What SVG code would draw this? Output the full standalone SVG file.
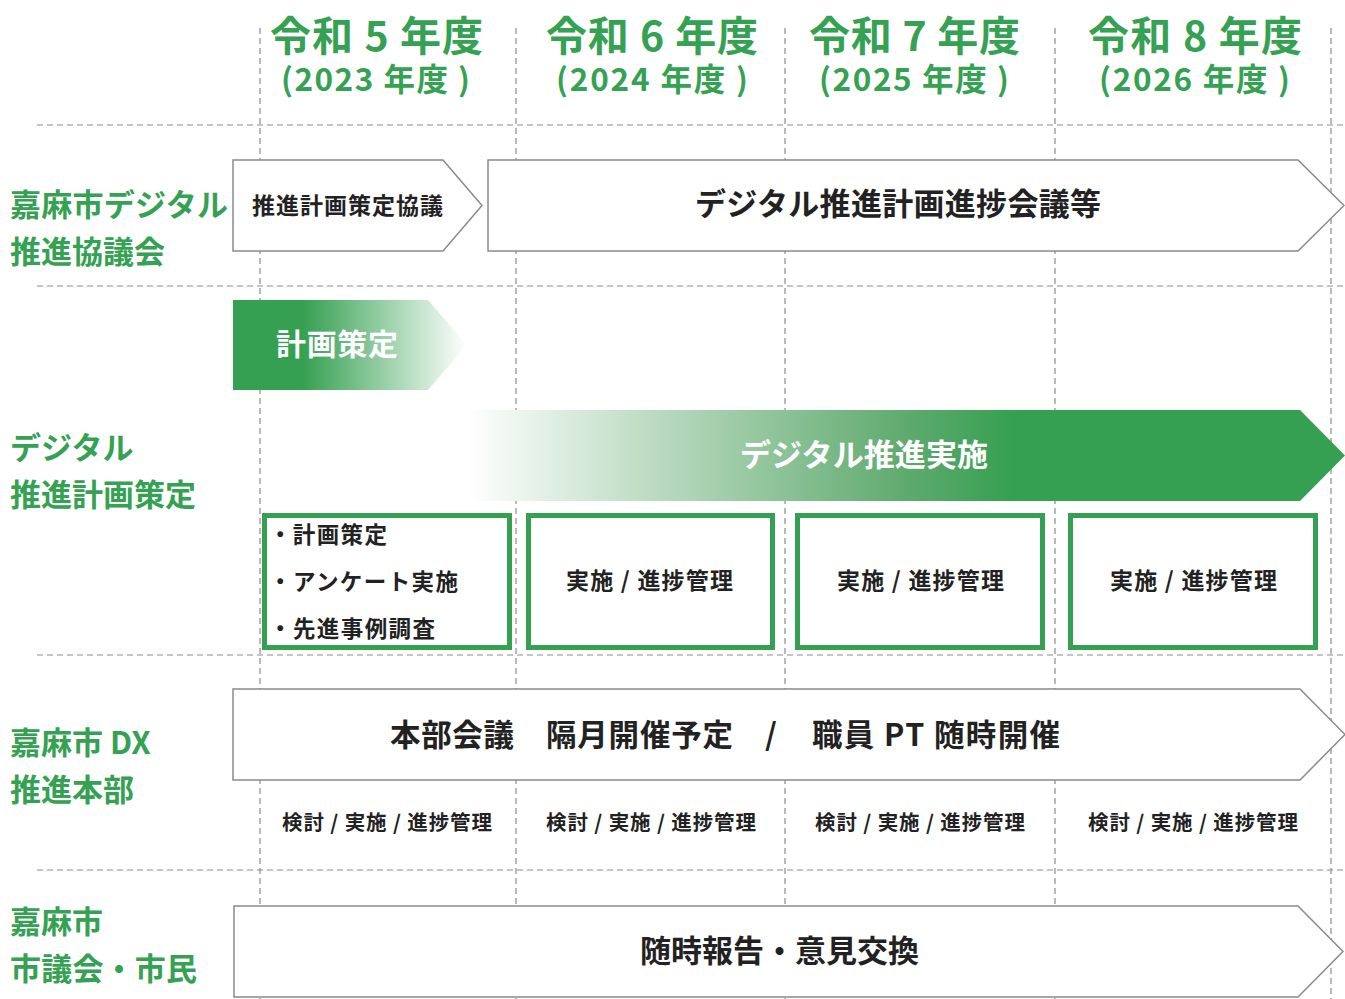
<svg xmlns="http://www.w3.org/2000/svg" width="1345" height="999" viewBox="0 0 1345 999">
<defs>
<linearGradient id="g1" x1="0" y1="0" x2="1" y2="0">
<stop offset="0" stop-color="#36a052"/>
<stop offset="0.3" stop-color="#36a052"/>
<stop offset="1" stop-color="#ffffff"/>
</linearGradient>
<linearGradient id="g2" x1="0" y1="0" x2="1" y2="0">
<stop offset="0" stop-color="#ffffff"/>
<stop offset="0.5" stop-color="#5faa6e"/>
<stop offset="0.62" stop-color="#36a052"/>
<stop offset="1" stop-color="#36a052"/>
</linearGradient>
</defs>
<style>
.t{font-family:"Noto Sans CJK JP","Noto Sans",sans-serif;font-weight:700}
.g{fill:#35a153}
.k{fill:#222}
.w{fill:#fff}
.grid{stroke:#8c8c8c;stroke-width:1.2;stroke-dasharray:6 4;fill:none}
.ar{fill:#fff;stroke:#8a8a8a;stroke-width:1.5}
.bx{fill:#fff;stroke:#36a052;stroke-width:5}
</style>
<rect width="1345" height="999" fill="#fff"/>
<g id="grid">
<line class="grid" x1="260" y1="28" x2="260" y2="999"/>
<line class="grid" x1="516" y1="28" x2="516" y2="999"/>
<line class="grid" x1="785" y1="28" x2="785" y2="999"/>
<line class="grid" x1="1055" y1="28" x2="1055" y2="999"/>
<line class="grid" x1="1331" y1="28" x2="1331" y2="999"/>
<line class="grid" x1="37" y1="125" x2="1345" y2="125"/>
<line class="grid" x1="37" y1="286" x2="1345" y2="286"/>
<line class="grid" x1="37" y1="655" x2="1345" y2="655"/>
<line class="grid" x1="37" y1="870" x2="1345" y2="870"/>
</g>
<g id="headers" class="t g">
<text x="270" y="51" font-size="41" textLength="213">令和 5 年度</text>
<text x="281" y="91" font-size="31.5" textLength="189">(2023 年度 )</text>
<text x="546" y="51" font-size="41" textLength="212">令和 6 年度</text>
<text x="556" y="91" font-size="31.5" textLength="192">(2024 年度 )</text>
<text x="809" y="51" font-size="41" textLength="211">令和 7 年度</text>
<text x="819" y="91" font-size="31.5" textLength="190">(2025 年度 )</text>
<text x="1088" y="51" font-size="41" textLength="214">令和 8 年度</text>
<text x="1099" y="91" font-size="31.5" textLength="191">(2026 年度 )</text>
</g>
<g id="labels" class="t g" font-size="31">
<text x="10" y="216" textLength="218">嘉麻市デジタル</text>
<text x="10" y="263">推進協議会</text>
<text x="10" y="459">デジタル</text>
<text x="10" y="506">推進計画策定</text>
<text x="10" y="754">嘉麻市 DX</text>
<text x="10" y="801">推進本部</text>
<text x="10" y="933">嘉麻市</text>
<text x="10" y="980" textLength="187">市議会・市民</text>
</g>
<g id="arrow-kyogi">
<polygon class="ar" points="233,160 443,160 482,205.5 443,251 233,251"/>
<text class="t k" x="252" y="214" font-size="23" textLength="191">推進計画策定協議</text>
</g>
<g id="arrow-shinchoku">
<polygon class="ar" points="488,160 1298,160 1344,205.5 1298,251 488,251"/>
<text class="t k" x="695" y="215" font-size="31" textLength="406">デジタル推進計画進捗会議等</text>
</g>
<g id="arrow-keikaku">
<polygon points="233,300 428,300 467,345 428,390 233,390" fill="url(#g1)"/>
<text class="t w" x="276" y="355" font-size="30" textLength="122">計画策定</text>
</g>
<g id="arrow-jisshi">
<polygon points="467,410 1300,410 1345,455.5 1300,501 467,501" fill="url(#g2)"/>
<text class="t w" x="740" y="466" font-size="31" textLength="248">デジタル推進実施</text>
</g>
<g id="box1">
<rect class="bx" x="264.5" y="515.5" width="245" height="132"/>
<g class="t k" font-size="22.5">
<text x="269" y="543" textLength="118">・計画策定</text>
<text x="269" y="590" textLength="189">・アンケート実施</text>
<text x="269" y="637" textLength="166">・先進事例調査</text>
</g>
</g>
<g id="box2">
<rect class="bx" x="528.5" y="515.5" width="244" height="132"/>
<text class="t k" x="566" y="589" font-size="23" textLength="167">実施 / 進捗管理</text>
</g>
<g id="box3">
<rect class="bx" x="797.5" y="515.5" width="245" height="132"/>
<text class="t k" x="837" y="589" font-size="23" textLength="167">実施 / 進捗管理</text>
</g>
<g id="box4">
<rect class="bx" x="1070.5" y="515.5" width="245" height="132"/>
<text class="t k" x="1110" y="589" font-size="23" textLength="167">実施 / 進捗管理</text>
</g>
<g id="arrow-honbu">
<polygon class="ar" points="233,689 1300,689 1345,734.5 1300,780 233,780"/>
<text class="t k" y="746" font-size="30.5"><tspan x="390" textLength="124">本部会議</tspan><tspan x="546" textLength="187">隔月開催予定</tspan><tspan x="765">/</tspan><tspan x="812" textLength="248">職員 PT 随時開催</tspan></text>
</g>
<g id="tasks" class="t k" font-size="20.5">
<text x="282" y="830" textLength="210">検討 / 実施 / 進捗管理</text>
<text x="546" y="830" textLength="210">検討 / 実施 / 進捗管理</text>
<text x="815" y="830" textLength="210">検討 / 実施 / 進捗管理</text>
<text x="1088" y="830" textLength="210">検討 / 実施 / 進捗管理</text>
</g>
<g id="arrow-shimin">
<polygon class="ar" points="234,906 1298,906 1343,951.5 1298,997 234,997"/>
<text class="t k" x="640" y="962" font-size="31" textLength="279">随時報告・意見交換</text>
</g>
</svg>
